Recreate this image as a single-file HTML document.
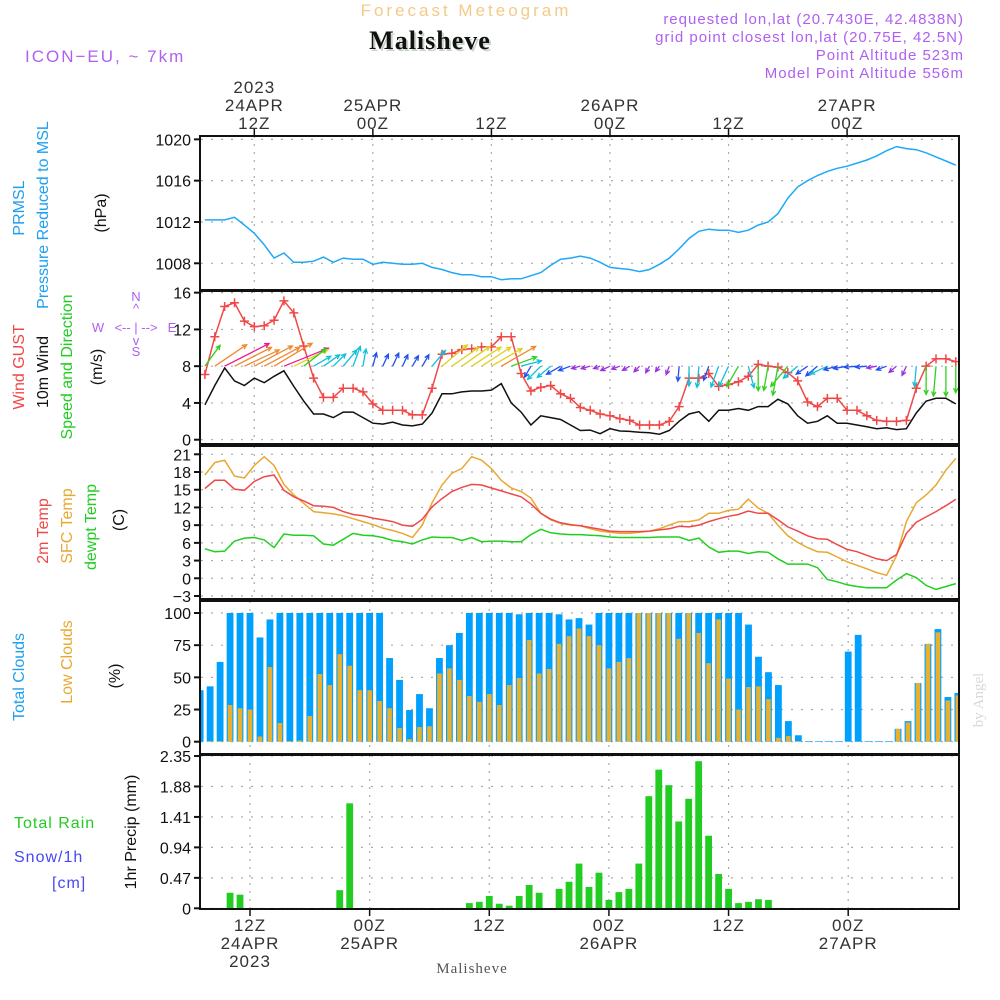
<!DOCTYPE html>
<html><head><meta charset="utf-8"><style>
body{margin:0;background:#fff}
svg{display:block}
text{font-family:"Liberation Sans",sans-serif}
text.serif{font-family:"Liberation Serif",serif}
</style></head><body>
<svg id="chart" width="1000" height="1000" viewBox="0 0 1000 1000">
<defs>
<clipPath id="cTop"><rect x="201" y="136" width="758" height="463"/></clipPath>
<clipPath id="cBot"><rect x="201" y="601" width="758" height="308"/></clipPath>
</defs>
<g>
<text x="466" y="16" text-anchor="middle" font-size="17" fill="#f2cb88" letter-spacing="3">Forecast Meteogram</text>
<text class="serif" x="432" y="51" text-anchor="middle" font-size="26" font-weight="bold" fill="#c8d4c8" letter-spacing="1">Malisheve</text>
<text class="serif" x="430" y="49" text-anchor="middle" font-size="26" font-weight="bold" fill="#111" letter-spacing="1">Malisheve</text>
<text x="25" y="62" font-size="17" fill="#b060f0" letter-spacing="2">ICON−EU, ~ 7km</text>
<text x="964" y="24" text-anchor="end" font-size="15" fill="#b060f0" letter-spacing="1">requested lon,lat (20.7430E, 42.4838N)</text>
<text x="964" y="42" text-anchor="end" font-size="15" fill="#b060f0" letter-spacing="1">grid point closest lon,lat (20.75E, 42.5N)</text>
<text x="964" y="60" text-anchor="end" font-size="15" fill="#b060f0" letter-spacing="1">Point Altitude 523m</text>
<text x="964" y="78" text-anchor="end" font-size="15" fill="#b060f0" letter-spacing="1">Model Point Altitude 556m</text>
</g>
<g font-size="16">
<text transform="translate(24,208) rotate(-90)" text-anchor="middle" fill="#1ea0f0">PRMSL</text>
<text transform="translate(48,215) rotate(-90)" text-anchor="middle" fill="#1ea0f0">Pressure Reduced to MSL</text>
<text transform="translate(106,213) rotate(-90)" text-anchor="middle" fill="#111">(hPa)</text>
<text transform="translate(24,367) rotate(-90)" text-anchor="middle" fill="#f04848">Wind GUST</text>
<text transform="translate(48,372) rotate(-90)" text-anchor="middle" fill="#111">10m Wind</text>
<text transform="translate(72,367) rotate(-90)" text-anchor="middle" fill="#22cc22">Speed and Direction</text>
<text transform="translate(102,367) rotate(-90)" text-anchor="middle" fill="#111">(m/s)</text>
<g fill="#b060f0" font-size="13">
<text x="136" y="301" text-anchor="middle">N</text>
<text x="136" y="313" text-anchor="middle">^</text>
<text x="98" y="332" text-anchor="middle">W</text>
<text x="136" y="332" text-anchor="middle">&lt;-- | --&gt;</text>
<text x="172" y="332" text-anchor="middle">E</text>
<text x="136" y="345" text-anchor="middle">v</text>
<text x="136" y="356" text-anchor="middle">S</text>
</g>
<text transform="translate(48,531) rotate(-90)" text-anchor="middle" fill="#f04848">2m Temp</text>
<text transform="translate(72,526) rotate(-90)" text-anchor="middle" fill="#e8a830">SFC Temp</text>
<text transform="translate(96,527) rotate(-90)" text-anchor="middle" fill="#22cc22">dewpt Temp</text>
<text transform="translate(124,520) rotate(-90)" text-anchor="middle" fill="#111">(C)</text>
<text transform="translate(24,677) rotate(-90)" text-anchor="middle" fill="#1ea0f0">Total Clouds</text>
<text transform="translate(72,662) rotate(-90)" text-anchor="middle" fill="#e8a830">Low Clouds</text>
<text transform="translate(120,676) rotate(-90)" text-anchor="middle" fill="#111">(%)</text>
<text x="14" y="828" fill="#22cc22" letter-spacing="1">Total  Rain</text>
<text x="14" y="862" fill="#4848f0" letter-spacing="1">Snow/1h</text>
<text x="52" y="888" fill="#4848f0" letter-spacing="1">[cm]</text>
<text transform="translate(136,832) rotate(-90)" text-anchor="middle" fill="#111">1hr Precip (mm)</text>
</g>
<text class="serif" transform="translate(983,700) rotate(-90)" text-anchor="middle" font-size="15" fill="#d8d8d8">by Angel</text>
<text class="serif" x="472" y="973" text-anchor="middle" font-size="15" fill="#555" letter-spacing="1">Malisheve</text>
<g id="grid"></g>
<g id="marks"></g>
<g id="axes"></g>
</svg>
<script>
// hours since 24APR 00Z, first value at t=7
const startHour = 7;
const pressure = [1012.2,1012.2,1012.2,1012.45,1011.7,1010.9,1009.8,1008.5,1009.0,1008.1,
1008.1,1008.2,1008.6,1008.1,1008.5,1008.4,1008.4,1007.9,1008.1,1008.0,
1007.9,1007.9,1008.0,1007.6,1007.4,1007.1,1006.9,1006.9,1006.7,1006.7,
1006.4,1006.5,1006.5,1006.8,1007.1,1007.8,1008.4,1008.5,1008.7,1008.5,
1008.1,1007.6,1007.5,1007.4,1007.2,1007.4,1007.9,1008.5,1009.4,1010.4,
1011.1,1011.3,1011.2,1011.2,1011.0,1011.2,1011.7,1012.0,1012.8,1014.3,
1015.4,1016.0,1016.5,1016.9,1017.2,1017.4,1017.7,1018.0,1018.4,1018.9,
1019.3,1019.1,1019.0,1018.7,1018.3,1017.9,1017.5];
const gust = [7.1,11.2,14.5,14.9,12.9,12.3,12.4,13.0,15.1,13.8,
10.2,6.7,4.6,4.6,5.6,5.6,5.2,3.9,3.2,3.2,
3.2,2.7,2.7,5.6,9.3,9.4,9.8,9.9,10.1,10.1,
11.2,11.2,7.2,5.3,5.7,5.9,5.0,4.5,3.5,3.2,
2.8,2.6,2.3,2.1,1.6,1.6,1.6,2.0,3.6,6.7,
6.7,7.2,5.8,6.0,6.3,6.9,8.2,8.0,7.9,7.3,
6.4,4.1,3.6,4.5,4.5,3.2,3.2,2.6,2.1,2.0,
2.0,2.1,5.6,8.0,8.8,8.8,8.5];
const wind10 = [3.8,5.9,7.8,6.4,5.9,6.7,6.2,6.9,7.5,5.8,
4.2,2.8,2.8,2.4,3.0,3.0,2.4,1.8,1.7,1.9,
1.6,1.5,1.7,2.9,5.0,5.0,5.2,5.3,5.3,5.4,
6.1,4.0,3.0,1.6,2.6,2.4,2.2,1.6,1.0,1.05,
0.65,1.2,0.95,0.9,0.8,0.75,0.6,1.0,2.0,2.8,
3.05,2.0,3.2,3.2,3.4,3.2,3.6,3.6,4.4,3.9,
2.6,1.8,2.0,2.6,1.8,1.8,1.6,1.4,1.2,1.3,
1.1,1.2,2.9,4.2,4.5,4.5,3.9];
// arrow heading on screen (deg, 0 = east, 90 = north)
const windDir = [54,34,27,27,25,28,28,31,22,26,
38,30,35,45,50,70,80,75,65,65,
65,60,60,50,40,35,35,33,33,30,
30,20,15,-120,-135,-140,-150,-160,-165,-165,
-160,-155,-160,-150,-135,-120,-125,-110,-95,-90,
-95,-110,-110,-115,-120,-75,-90,-100,-100,-130,
-140,-145,-140,-155,-165,-170,-175,-175,-170,-160,
-140,-115,-95,-90,-95,-90,-90];
const t2m = [15.2,16.6,16.6,15.1,14.9,16.4,17.2,17.5,14.9,13.8,
13.1,12.3,12.2,12.0,11.3,10.8,10.6,10.2,9.9,9.6,
9.0,8.8,10.0,12.1,13.5,14.7,15.4,15.9,15.8,15.3,
14.8,14.3,13.8,12.6,11.0,10.0,9.4,9.1,8.9,8.6,
8.3,8.0,7.9,7.9,7.9,8.0,8.2,8.4,8.8,8.7,
9.0,9.6,10.1,10.5,10.8,11.4,11.0,11.0,9.9,8.7,
8.0,7.2,6.7,6.6,5.7,4.9,4.5,3.9,3.3,3.0,
4.0,7.6,9.5,10.4,11.3,12.3,13.4];
const tSfc = [17.5,19.6,20.0,17.3,17.0,19.1,20.6,19.1,15.9,14.1,
12.7,11.3,11.1,10.9,10.6,10.1,9.6,9.1,8.5,8.1,
7.6,6.9,9.0,12.8,15.8,17.8,18.6,20.6,20.0,18.6,
16.6,15.3,14.7,13.6,11.0,9.9,9.3,9.0,8.9,8.4,
8.0,7.8,7.6,7.6,7.8,8.0,8.4,9.0,9.6,9.6,
9.9,11.0,11.0,11.5,11.7,13.4,11.9,11.0,9.0,7.2,
6.1,5.2,4.5,4.4,3.6,2.8,2.2,1.6,0.96,0.5,
3.8,9.6,12.8,14.1,15.8,18.3,20.3];
const tDew = [5.0,4.5,4.6,6.3,6.8,6.9,6.5,5.2,7.5,7.3,
7.3,7.2,5.8,5.6,6.6,7.6,7.3,7.2,6.9,6.4,
6.2,5.8,6.5,7.0,6.9,6.9,6.4,6.9,6.2,6.3,
6.3,6.2,6.2,7.4,8.3,7.7,7.5,7.4,7.4,7.3,
7.2,7.0,6.9,6.9,6.9,6.9,7.0,7.0,7.0,6.4,
6.8,5.3,4.4,4.6,4.6,4.2,4.5,4.4,3.3,2.4,
2.4,2.4,1.8,-0.2,-0.6,-1.1,-1.4,-1.6,-1.6,-1.6,
-0.3,0.8,0.1,-1.2,-1.9,-1.4,-0.9];
const totalClouds = [40,43,62,100,100,100,81,95,100,100,
100,100,100,100,100,100,100,100,100,65,
48,24.6,37,26,65,75,84.5,100,100,100,
100,100,99,100,100,100,99,95,96,91,
100,100,100,100,100,100,100,100,100,100,
100,100,100,100,100,91,66,54,44,16,
5,0.5,0.5,0.5,0.5,70,83,0.5,0.5,0.5,
10,16,45.6,76,87.5,34.7,37.8];
const lowClouds = [0,0.5,0.5,28.5,26,25,4,58,14.5,0.5,
1,20,52.6,44,68,59,40,40,31.6,26,
10.6,2,11.4,12,53,57,48,35.5,31,37,
28.5,44,49.5,79,53,56.5,76,82,88,82,
75,57,62,65,100,100,100,100,80,100,
84.5,61,95,49,25,42.5,43,33,3,4.4,
0.5,0,0,0,0,0,0,0,0,0,
10,15,45.6,76,85,32,36];
const precip = [0,0,0,0.24,0.21,0,0,0,0,0,
0,0,0,0,0.28,1.62,0,0,0,0,
0,0,0,0,0,0,0,0.08,0.10,0.19,
0.07,0.04,0.19,0.36,0.24,0,0.30,0.41,0.69,0.33,
0.55,0.13,0.25,0.30,0.69,1.73,2.14,1.90,1.34,1.69,
2.27,1.12,0.53,0.30,0.08,0.10,0.14,0.13,0,0,
0,0,0,0,0,0,0,0,0,0,
0,0,0,0,0,0,0];
const pTicks = [1008,1012,1016,1020];
const wTicks = [0,4,8,12,16];
const tTicks = [-3,0,3,6,9,12,15,18,21];
const cTicks = [0,25,50,75,100];
const rTicks = [0,0.47,0.94,1.41,1.88,2.35];
const timeTicks = [12,24,36,48,60,72];
const topTimeLabels = [["2023","24APR","12Z"],["","25APR","00Z"],["","","12Z"],["","26APR","00Z"],["","","12Z"],["","27APR","00Z"]];
const botTimeLabels = [["12Z","24APR","2023"],["00Z","25APR",""],["12Z","",""],["00Z","26APR",""],["12Z","",""],["00Z","27APR",""]];

const NS="http://www.w3.org/2000/svg";
const xT = t => 254.3 + (t-12)*9.88;
const xB = t => 250 + (t-12)*9.97;
const yP = v => 263.3 - (v-1008)*10.33;
const yW = v => 439.7 - v*9.19;
const yT = v => 454.3 + (21-v)*5.904;
const yC = v => 741.7 - v*1.287;
const yR = v => 908.3 - v*64.8;
const gGrid=document.getElementById('grid'), gMarks=document.getElementById('marks'), gAxes=document.getElementById('axes');
function mk(tag, attrs, parent){const e=document.createElementNS(NS,tag);for(const k in attrs)e.setAttribute(k,attrs[k]);parent.appendChild(e);return e;}

const panels=[
 {y0:136,y1:290,ticks:pTicks,f:yP,name:'pressure',top:true},
 {y0:291,y1:444,ticks:wTicks,f:yW,name:'wind',top:true},
 {y0:446,y1:599,ticks:tTicks,f:yT,name:'temperature',top:true},
 {y0:601,y1:754,ticks:cTicks,f:yC,name:'clouds',top:false},
 {y0:755,y1:909,ticks:rTicks,f:yR,name:'precip',top:false}];
panels.forEach(p=>{
  p.ticks.forEach(v=>{
    const y=p.f(v);
    const gl=mk('line',{x1:201,x2:959,y1:y,y2:y,stroke:'#aaa','stroke-width':1.2,'stroke-dasharray':'2,8'},gGrid);
    
    
    const tk=mk('line',{x1:194,x2:201,y1:y,y2:y,stroke:'#111','stroke-width':2},gAxes);
    
    
    const lb=mk('text',{x:191,y:y+6,'text-anchor':'end','font-size':16,fill:'#111'},gAxes);
    lb.textContent = (p.name==='temperature' && v<0) ? '−'+Math.abs(v) : String(v);
    
    
  });
  timeTicks.forEach(t=>{
    const x=p.top?xT(t):xB(t);
    const vl=mk('line',{x1:x,x2:x,y1:p.y0,y2:p.y1,stroke:'#aaa','stroke-width':1.2,'stroke-dasharray':'2,6'},gGrid);
    
    
  });
  const fr=mk('rect',{x:200,y:p.y0,width:759,height:p.y1-p.y0,fill:'none',stroke:'#111','stroke-width':2},gAxes);
  
  
});
timeTicks.forEach((t,i)=>{
  const x=xT(t);
  const tk=mk('line',{x1:x,x2:x,y1:129,y2:136,stroke:'#111','stroke-width':1.5},gAxes);
  
  
  topTimeLabels[i].forEach((s,j)=>{
    if(!s)return;
    const lb=mk('text',{x:x,y:93+j*18,'text-anchor':'middle','font-size':17,fill:'#333','letter-spacing':1},gAxes);
    lb.textContent=s;
    
    
  });
  const xb=xB(t);
  const bt=mk('line',{x1:xb,x2:xb,y1:909,y2:916,stroke:'#111','stroke-width':1.5},gAxes);
  
  
  botTimeLabels[i].forEach((s,j)=>{
    if(!s)return;
    const lb=mk('text',{x:xb,y:931+j*18,'text-anchor':'middle','font-size':17,fill:'#333','letter-spacing':1},gAxes);
    lb.textContent=s;
    
    
  });
});
const gTop=mk('g',{'clip-path':'url(#cTop)'},gMarks);
const gBot=mk('g',{'clip-path':'url(#cBot)'},gMarks);
function line(arr,xf,yf,color,name,w){
  const pts=arr.map((v,i)=>xf(startHour+i).toFixed(1)+','+yf(v).toFixed(1)).join(' ');
  const pl=mk('polyline',{points:pts,fill:'none',stroke:color,'stroke-width':w||1.5},gTop);
  
  
}
line(pressure,xT,yP,'#20a8f8','pressure-line');
line(wind10,xT,yW,'#111','wind10-line');
line(gust,xT,yW,'#f04848','gust-line');
gust.forEach((v,i)=>{
  const x=xT(startHour+i), y=yW(v);
  const m=mk('path',{d:`M${x-4.5},${y}H${x+4.5}M${x},${y-4.5}V${y+4.5}`,stroke:'#f04848','stroke-width':1.5},gTop);
  
  
});
function spdColor(s){
  if(s<1.3)return '#9a30e0';
  if(s<2.3)return '#2050f0';
  if(s<3.4)return '#10c0d8';
  if(s<4.6)return '#30d020';
  if(s<5.9)return '#e0d020';
  if(s<7.2)return '#f08830';
  return '#f01890';
}
wind10.forEach((s,i)=>{
  const x=xT(startHour+i), y=yW(8);
  const a=windDir[i]*Math.PI/180, L=3+6*s;
  const x2=x+L*Math.cos(a), y2=y-L*Math.sin(a);
  const h=5, b=0.45;
  const hx1=x2-h*Math.cos(a-b), hy1=y2+h*Math.sin(a-b);
  const hx2=x2-h*Math.cos(a+b), hy2=y2+h*Math.sin(a+b);
  const ar=mk('path',{d:`M${x},${y}L${x2},${y2}M${hx1},${hy1}L${x2},${y2}L${hx2},${hy2}`,fill:'none',stroke:spdColor(s),'stroke-width':1.3},gTop);
  
  
});
line(tDew,xT,yT,'#20d020','dewpoint-line');
line(tSfc,xT,yT,'#e8a830','sfc-temp-line');
line(t2m,xT,yT,'#f04848','t2m-line');
totalClouds.forEach((v,i)=>{
  const x=xB(startHour+i);
  const r=mk('rect',{x:x-3.4,y:yC(v),width:6.8,height:yC(0)-yC(v),fill:'#00a0ff'},gBot);
  
  
});
lowClouds.forEach((v,i)=>{
  const x=xB(startHour+i);
  const r=mk('rect',{x:x-2.3,y:yC(v),width:4.6,height:yC(0)-yC(v),fill:'#e8b030'},gBot);
  
  
});
precip.forEach((v,i)=>{
  const x=xB(startHour+i);
  const r=mk('rect',{x:x-3.4,y:yR(v),width:6.8,height:yR(0)-yR(v),fill:'#22cc22'},gBot);
  
  
});
</script>
</body></html>
